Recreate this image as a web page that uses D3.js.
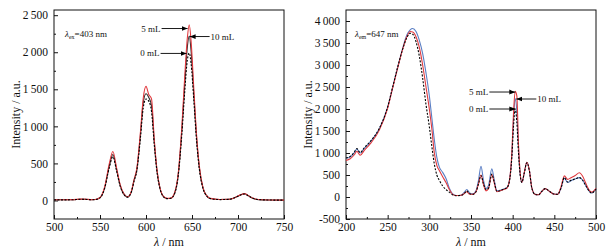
<!DOCTYPE html>
<html>
<head>
<meta charset="utf-8">
<script src="https://cdn.jsdelivr.net/npm/d3@7"></script>
<style>
  html, body { margin: 0; padding: 0; background: #fff; }
  svg { display: block; font-family: "Liberation Serif", "DejaVu Serif", serif; }
</style>
</head>
<body>
<div id="chart"></div>
<script>
// ---- emission spectrum, lambda_ex = 403 nm ----
var emWl  = [500,510,520,530,535,540,545,550,555,560,564,568,572,576,580,584,587,590,594,597,600,603,606,609,612,615,619,623,627,631,635,639,642,645,647,649,652,655,658,662,666,670,680,690,697,702,707,711,716,722,735,750];
var em0   = [8,8,10,16,14,10,12,35,160,440,590,400,190,80,45,110,260,400,850,1250,1370,1340,1200,750,380,170,50,25,30,90,330,900,1450,1900,1990,1850,1350,800,420,160,60,25,12,15,40,70,88,65,30,12,6,4];
var em5   = [10,10,12,18,16,12,14,40,180,490,660,440,210,90,50,120,280,430,930,1380,1540,1430,1370,820,410,180,55,28,32,100,360,1000,1650,2200,2370,2150,1500,880,460,170,65,28,14,16,42,72,92,68,32,13,7,5];
var em10  = [9,9,11,17,15,11,13,38,170,460,620,420,200,85,48,115,270,415,890,1320,1440,1390,1280,790,395,175,52,26,31,95,345,950,1550,2080,2220,2020,1420,840,440,165,62,26,13,15,41,71,90,66,31,12,6,4];
var emXTicks = [500,550,600,650,700,750];
var emYTicks = [0,500,1000,1500,2000,2500];

// ---- excitation spectrum, lambda_em = 647 nm ----
var exWl  = [200,205,210,213,217,222,230,240,250,256,262,268,273,277,280,284,288,292,296,300,303,306,309,312,316,320,324,328,332,338,342,345,348,352,356,359,362,365,368,371,375,378,381,385,389,393,396,399,401,403,405,407,409,411,414,417,420,423,427,431,435,439,444,449,454,458,462,466,470,475,480,484,488,492,495,498,500];
var ex0   = [890,920,1020,1100,1010,1120,1280,1560,2050,2500,2950,3360,3620,3720,3700,3530,3200,2700,2100,1600,1150,750,500,380,250,170,110,50,30,35,80,140,80,60,120,300,490,300,170,200,520,330,130,140,180,210,350,900,1600,2000,1700,1000,500,330,550,780,600,200,60,50,130,190,130,70,60,200,440,340,380,410,440,380,250,130,90,130,180];
var ex5   = [830,870,960,1040,950,1060,1230,1520,2020,2480,2930,3360,3640,3760,3750,3640,3400,3000,2500,2000,1550,1000,720,600,460,330,170,60,35,40,80,120,70,60,120,300,500,280,140,190,510,310,120,140,170,200,360,1000,1900,2400,2300,1200,550,330,560,790,610,210,60,50,130,190,130,70,60,230,480,400,440,490,550,470,300,150,110,150,200];
var ex10  = [880,910,1010,1090,1000,1110,1270,1550,2040,2490,2950,3380,3680,3800,3830,3760,3560,3260,2820,2300,1800,1300,900,680,560,420,200,70,35,40,110,170,100,70,140,380,700,380,190,260,640,380,140,150,180,210,360,950,1750,2240,1950,1100,520,330,560,790,610,210,60,50,130,190,130,70,60,200,430,330,370,410,440,380,250,130,90,140,190];
var exXTicks = [200,250,300,350,400,450,500];
var exYTicks = [-500,0,500,1000,1500,2000,2500,3000,3500,4000];

var seriesNames = ['0 mL', '5 mL', '10 mL'];

// arrow labels: [label, wavelength, value, side]
var emMarks = [['5 mL', 645.2, 2320, 'left'], ['10 mL', 647.4, 2212, 'right'], ['0 mL', 644.1, 1984, 'left']];
var exMarks = [['5 mL', 403.2, 2386, 'left'], ['10 mL', 404.4, 2227, 'right'], ['0 mL', 403.2, 2000, 'left']];

var W = 610, H = 252;
var svg = d3.select('#chart').append('svg').attr('width', W).attr('height', H);

svg.append('defs').append('marker')
  .attr('id', 'arr').attr('viewBox', '0 0 10 10').attr('refX', 10).attr('refY', 5)
  .attr('markerWidth', 6).attr('markerHeight', 6).attr('orient', 'auto-start-reverse')
  .attr('markerUnits', 'userSpaceOnUse')
  .append('path').attr('d', 'M0,1 L10,5 L0,9 Z').attr('fill', '#000');

var loc = d3.formatLocale({decimal: '.', thousands: '\u2009', grouping: [3], currency: ['', ''], minus: '-'});
var fmt = loc.format(',d');

function drawPanel(p) {
  var x = d3.scaleLinear().domain(p.xDomain).range([p.left, p.right]);
  var y = d3.scaleLinear().domain(p.yDomain).range([p.bottom, p.top]);
  var g = svg.append('g');

  // frame
  g.append('rect').attr('x', p.left).attr('y', p.top)
    .attr('width', p.right - p.left).attr('height', p.bottom - p.top)
    .attr('fill', 'none').attr('stroke', '#111').attr('stroke-width', 1);

  var ax = g.append('g').attr('transform', 'translate(0,' + p.bottom + ')')
    .call(d3.axisBottom(x).tickValues(p.xTicks).tickSize(-4).tickPadding(4).tickFormat(d3.format('d')));
  var axm = g.append('g').attr('transform', 'translate(0,' + p.bottom + ')')
    .call(d3.axisBottom(x).tickValues(p.xTicks.slice(1).map(function (d) { return d - (p.xTicks[1] - p.xTicks[0]) / 2; })).tickSize(-2).tickFormat(''));
  var ay = g.append('g').attr('transform', 'translate(' + p.left + ',0)')
    .call(d3.axisLeft(y).tickValues(p.yTicks).tickSize(-4).tickPadding(6).tickFormat(fmt));
  var yMinor = [];
  for (var i = 0; i < p.yTicks.length; i++) {
    var m = p.yTicks[i] + (p.yTicks[1] - p.yTicks[0]) / 2;
    if (m < p.yDomain[1]) yMinor.push(m);
  }
  var aym = g.append('g').attr('transform', 'translate(' + p.left + ',0)')
    .call(d3.axisLeft(y).tickValues(yMinor).tickSize(-2).tickFormat(''));

  [ax, axm, ay, aym].forEach(function (a) {
    a.select('.domain').remove();
    a.selectAll('line').attr('stroke', '#111');
    a.selectAll('text').attr('font-size', 11.5).attr('fill', '#111').attr('font-family', '"Liberation Serif", serif');
  });

  var line = d3.line().x(function (d) { return x(d[0]); }).y(function (d) { return y(d[1]); }).curve(d3.curveMonotoneX);
  p.series.forEach(function (s) {
    g.append('path').datum(p.wl.map(function (w, j) { return [w, s.values[j]]; }))
      .attr('d', line).attr('fill', 'none').attr('stroke', s.color)
      .attr('stroke-width', 1.1).attr('stroke-dasharray', s.dash || null);
  });

  // arrows
  p.marks.forEach(function (mk) {
    var tx = x(mk[1]), ty = y(mk[2]);
    var len = mk[3] === 'left' ? 26 : 20;
    var sx = mk[3] === 'left' ? tx - len : tx + len;
    g.append('line').attr('x1', sx).attr('y1', ty).attr('x2', tx).attr('y2', ty)
      .attr('stroke', '#000').attr('stroke-width', 0.9).attr('marker-end', 'url(#arr)');
    g.append('text').attr('x', mk[3] === 'left' ? sx - 1 : sx + 1).attr('y', ty + 3)
      .attr('text-anchor', mk[3] === 'left' ? 'end' : 'start')
      .attr('font-size', 9).attr('fill', '#111').text(mk[0]);
  });

  // excitation/emission label
  var t = g.append('text').attr('x', p.left + p.tagDx).attr('y', p.top + 27).attr('font-size', 9).attr('fill', '#111');
  t.append('tspan').attr('font-style', 'italic').text('\u03bb');
  t.append('tspan').attr('font-size', 6).attr('dy', 2).text(p.tagSub);
  t.append('tspan').attr('dy', -2).text('=' + p.tagVal + ' nm');

  // axis titles
  var xt = g.append('text').attr('x', (p.left + p.right) / 2).attr('y', H - 6)
    .attr('text-anchor', 'middle').attr('font-size', 12).attr('fill', '#111');
  xt.append('tspan').attr('font-style', 'italic').text('\u03bb');
  xt.append('tspan').text(' / nm');

  g.append('text').attr('transform', 'translate(' + p.yTitleX + ',' + ((p.top + p.bottom) / 2) + ') rotate(-90)')
    .attr('text-anchor', 'middle').attr('font-size', 12).attr('fill', '#111').text('Intensity / a.u.');
}

drawPanel({
  left: 54, right: 284, top: 10, bottom: 219,
  xDomain: [500, 750], yDomain: [-250, 2570],
  xTicks: emXTicks, yTicks: emYTicks,
  wl: emWl,
  series: [
    {values: em10, color: '#2e2a2a'},
    {values: em5, color: '#e0393e'},
    {values: em0, color: '#000', dash: '2,1.5'}
  ],
  marks: emMarks, tagDx: 11, tagSub: 'ex', tagVal: 403, yTitleX: 20
});

drawPanel({
  left: 346, right: 596, top: 10, bottom: 219,
  xDomain: [200, 500], yDomain: [-500, 4250],
  xTicks: exXTicks, yTicks: exYTicks,
  wl: exWl,
  series: [
    {values: ex10, color: '#5b7fc4'},
    {values: ex5, color: '#e0393e'},
    {values: ex0, color: '#000', dash: '2,1.5'}
  ],
  marks: exMarks, tagDx: 9, tagSub: 'em', tagVal: 647, yTitleX: 312
});
</script>
</body>
</html>
